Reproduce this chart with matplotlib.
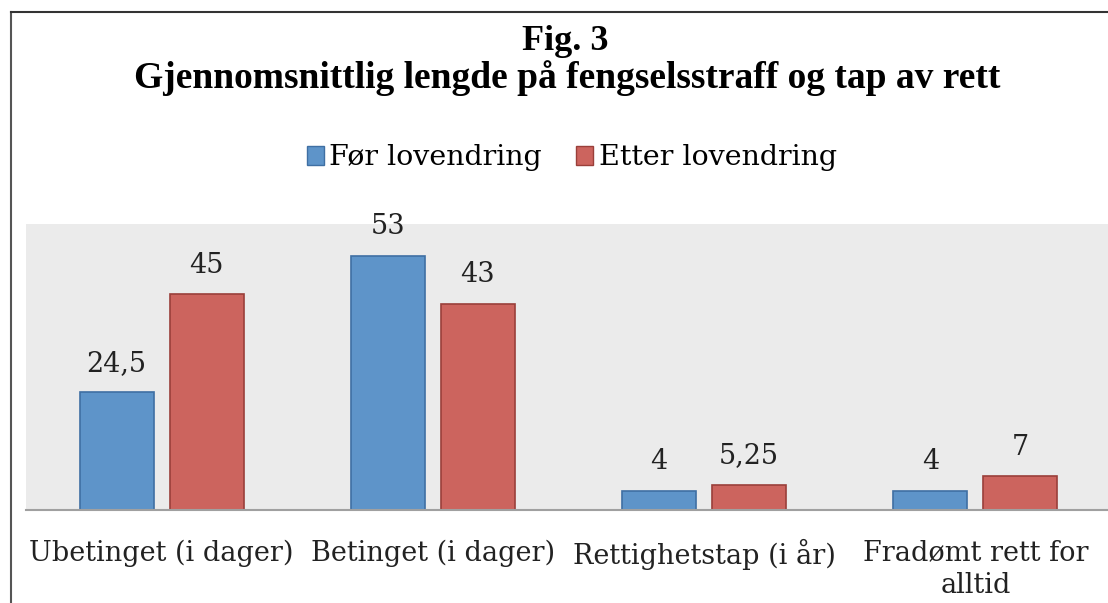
import matplotlib.pyplot as plt
import numpy as np
from matplotlib.lines import Line2D

categories = ["Ubetinget (i dager)", "Betinget (i dager)", "Rettighetstap (i år)", "Fradømt rett for\nalltid"]
before = [24.5, 53, 4, 4]
after = [45, 43, 5.25, 7]
before_labels = ["24,5", "53", "4", "4"]
after_labels = ["45", "43", "5,25", "7"]

W, H = 1108, 603
fig = plt.figure(figsize=(W / 100, H / 100), dpi=100)
plt.rcParams['font.family'] = ['DejaVu Serif']

ax = fig.add_axes([26 / W, (H - 510) / H, (1111 - 26) / W, (510 - 224) / H])
ax.set_facecolor('#ebebeb')

x = np.arange(len(categories))
bw = 0.273
off = 0.166
ax.bar(x - off, before, bw, color='#5e94c9', edgecolor='#3f6fa3', linewidth=1.2, zorder=2)
ax.bar(x + off, after, bw, color='#cc645e', edgecolor='#9a3f3a', linewidth=1.2, zorder=2)

for i in range(len(categories)):
    ax.text(x[i] - off, before[i] + 3.2, before_labels[i], ha='center', va='bottom',
            fontsize=19.5, color='#222222')
    ax.text(x[i] + off, after[i] + 3.2, after_labels[i], ha='center', va='bottom',
            fontsize=19.5, color='#222222')

ax.set_xlim(-0.5, 3.5)
ax.set_ylim(0, 59.6)
ax.set_yticks([])
ax.set_xticks(x)
ax.set_xticklabels(categories, fontsize=19.5, color='#222222', linespacing=1.3)
ax.tick_params(axis='x', length=0, pad=21)
for s in ['top', 'right', 'left']:
    ax.spines[s].set_visible(False)
ax.spines['bottom'].set_color('#a0a0a0')
ax.spines['bottom'].set_linewidth(1.5)

fig.text(565 / W, 1 - 41 / H, "Fig. 3", ha='center', va='center', fontsize=26,
         fontweight='bold', family='Liberation Serif')
fig.text(567 / W, 1 - 78 / H, "Gjennomsnittlig lengde på fengselsstraff og tap av rett",
         ha='center', va='center', fontsize=27, fontweight='bold', family='Liberation Serif')

# legend
handles = [plt.Rectangle((0, 0), 1, 1, facecolor='#5e94c9', edgecolor='#3f6fa3'),
           plt.Rectangle((0, 0), 1, 1, facecolor='#cc645e', edgecolor='#9a3f3a')]
fig.legend(handles, ["Før lovendring", "Etter lovendring"], loc='center',
           bbox_to_anchor=(572 / W, 1 - 158 / H), ncol=2, frameon=False, fontsize=20.5,
           handlelength=0.6, handleheight=0.6, handletextpad=0.2, columnspacing=1.2)

# outer frame
fig.add_artist(Line2D([11 / W, 11 / W], [0, 1 - 12 / H], color='#555555', lw=1.5))
fig.add_artist(Line2D([11 / W, 1], [1 - 12 / H, 1 - 12 / H], color='#333333', lw=1.5))

fig.savefig("out.png", dpi=100)
